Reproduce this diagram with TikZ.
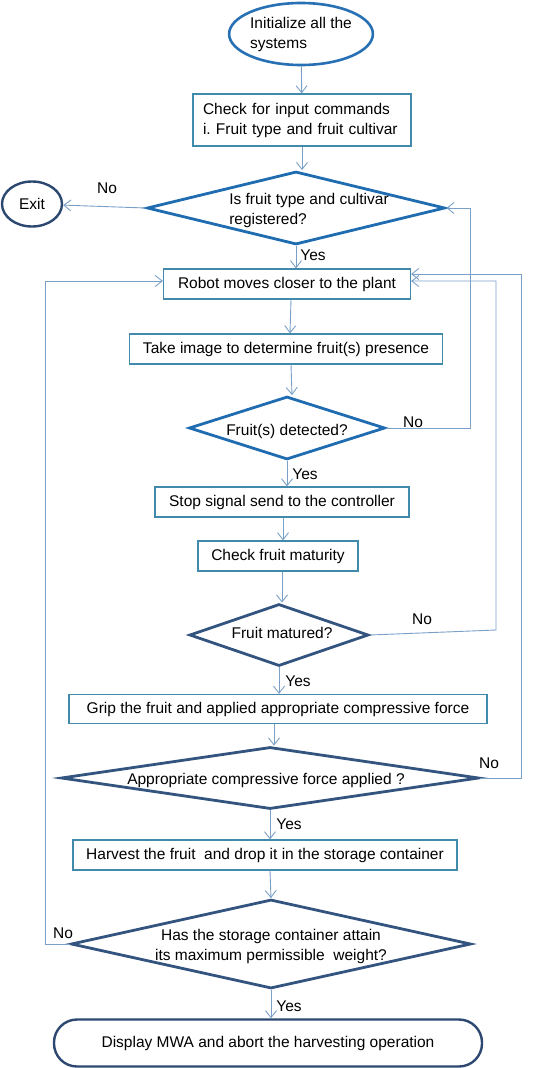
\documentclass[tikz,border=0pt]{standalone}
\usepackage{fontspec}
\setmainfont{Liberation Sans}
\usetikzlibrary{arrows.meta, positioning, shapes.geometric}
\definecolor{startblue}{RGB}{40,112,180}
\definecolor{decblue}{RGB}{32,108,176}
\definecolor{decdark}{RGB}{52,84,128}
\definecolor{exitnavy}{RGB}{44,72,112}
\definecolor{boxline}{RGB}{66,138,172}
\definecolor{linkblue}{RGB}{122,160,200}
\tikzset{
  startnode/.style={ellipse, draw=startblue, line width=2.6pt, align=left,
                    inner sep=0pt, minimum width=138pt, minimum height=62pt},
  exitnode/.style={ellipse, draw=exitnavy, line width=2.4pt, inner sep=0pt,
                   minimum width=60pt, minimum height=45pt},
  procbox/.style={rectangle, draw=boxline, line width=1.2pt, minimum height=30pt,
                  inner sep=0pt},
  decision/.style={diamond, draw=decblue, line width=2.8pt, inner sep=0pt},
  decisiondark/.style={decision, draw=decdark},
  termbox/.style={rectangle, rounded corners=23pt, draw=exitnavy, line width=2.4pt,
                  minimum width=428pt, minimum height=47pt},
  link/.style={-{Straight Barb[length=7pt,width=11pt]}, draw=linkblue, line width=0.9pt},
  answer/.style={inner sep=0pt},
}

\begin{document}
\begin{tikzpicture}[x=1pt, y=-1pt, font=\fontsize{15.5}{20}\selectfont]
  \useasboundingbox (0,0) rectangle (551,1068);

  % main column
  \node[startnode] (start) at (301,34) {Initialize all the\\systems};
  \node[procbox, minimum width=218pt, minimum height=52pt, text width=198pt,
        align=left] (input) at (302,120)
        {Check for input commands\\i.\ Fruit type and fruit cultivar};
  \node[decision, minimum width=298pt, minimum height=73pt,
        label={[align=left, xshift=13pt, yshift=-2pt]center:Is fruit type and cultivar\\registered?}]
        (reg) at (296,208) {};
  \node[exitnode] (exit) at (32,204) {Exit};
  \node[procbox, minimum width=247pt] (robot) at (287,284) {Robot moves closer to the plant};
  \node[procbox, minimum width=313pt] (image) at (286,349) {Take image to determine fruit(s) presence};
  \node[decision, minimum width=196pt, minimum height=63pt,
        label={[yshift=-3pt]center:Fruit(s) detected?}] (detect) at (287,428) {};
  \node[procbox, minimum width=254pt] (stop) at (282,502) {Stop signal send to the controller};
  \node[procbox, minimum width=160pt] (maturity) at (278,556) {Check fruit maturity};
  \node[decisiondark, minimum width=179pt, minimum height=62pt,
        label={[xshift=3pt, yshift=2pt]center:Fruit matured?}] (matured) at (279,635) {};
  \node[procbox, minimum width=418pt, minimum height=29pt] (grip) at (278,709)
        {Grip the fruit and applied appropriate compressive force};
  \node[decisiondark, minimum width=418pt, minimum height=62pt,
        label={[xshift=-4pt, yshift=-2pt]center:Appropriate compressive force applied ?}]
        (force) at (270,778) {};
  \node[procbox, minimum width=384pt] (harvest) at (265,855)
        {Harvest the fruit\ \ and drop it in the storage container};
  \node[decisiondark, minimum width=400pt, minimum height=89pt,
        label={[align=center, yshift=-2pt]center:Has the storage container attain\\its maximum permissible\ \ weight?}]
        (full) at (271,944) {};
  \node[termbox] (display) at (268,1043) {Display MWA and abort the harvesting operation};

  % loop corners
  \coordinate (loopa) at (470,428);
  \coordinate (loopb) at (496,630);
  \coordinate (loopc) at (521,778);
  \coordinate (loopd) at (45,944);

  % straight links
  \draw[link] (start) -- (input);
  \draw[link] (input.south) -- (input.south |- reg.north);
  \draw[link] (reg.west) -- (exit);
  \draw[link] (reg.south) -- (reg.south |- robot.north);
  \draw[link] (robot.south) ++(4,0) -- ([xshift=4pt]image.north);
  \draw[link] ([xshift=5pt]image.south) -- ([xshift=5pt]detect.north);
  \draw[link] (detect.south) -- (detect.south |- stop.north);
  \draw[link] ([xshift=1pt]stop.south) -- ([xshift=5pt]maturity.north);
  \draw[link] ([xshift=4pt]maturity.south) -- ([xshift=3pt]matured.north);
  \draw[link] (matured.south) -- (matured.south |- grip.north);
  \draw[link] ([xshift=-4pt]grip.south) -- ([xshift=4pt]force.north);
  \draw[link] (force.south) -- (force.south |- harvest.north);
  \draw[link] ([xshift=5pt]harvest.south) -- (full.north);
  \draw[link] (full.south) -- (full.south |- display.north);

  % return links
  \draw[link] (detect.east) -- (loopa) -- (loopa |- reg.east) -- (reg.east);
  \draw[link] (matured.east) -- (loopb) -- (loopb |- 0,281) -- ([yshift=3pt]robot.east);
  \draw[link] (force.east) -- (loopc) -- (loopc |- 0,274) -- ([yshift=10pt]robot.east);
  \draw[link] (full.west) -- (loopd) -- (loopd |- 0,281) -- ([yshift=3pt]robot.west);

  % answers
  \node[answer] (no1) at (107,188) {No};
  \node[answer] (yes1) at (313,255) {Yes};
  \node[answer] (no2) at (413,422) {No};
  \node[answer] (yes2) at (305,474) {Yes};
  \node[answer] (no3) at (422,619) {No};
  \node[answer] (yes3) at (298,681) {Yes};
  \node[answer] (no4) at (489,763) {No};
  \node[answer] (yes4) at (289,824) {Yes};
  \node[answer] (no5) at (63,933) {No};
  \node[answer] (yes5) at (289,1006) {Yes};
\end{tikzpicture}
\end{document}
